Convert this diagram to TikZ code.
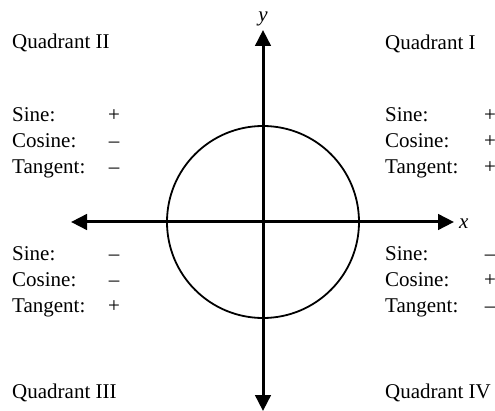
\documentclass[tikz,border=0pt]{standalone}
\usepackage{fontspec}
\setmainfont{Liberation Serif}
\usetikzlibrary{arrows.meta}
\begin{document}
\begin{tikzpicture}[x=1pt,y=-1pt,
  lbl/.style={inner sep=0pt,anchor=base west,font=\fontsize{21}{25}\selectfont},
  sgn/.style={inner sep=0pt,anchor=base,font=\fontsize{21}{25}\selectfont},
  axis/.style={line width=3pt,-{Triangle[length=16pt,width=15.5pt]}},
  unitcircle/.style={line width=1.8pt}]
\useasboundingbox (0,0) rectangle (495,411);
\coordinate (O) at (263,222);
\coordinate (xl) at (71,222);
\coordinate (xr) at (454,222);
\coordinate (yt) at (263,30);
\coordinate (yb) at (263,411);
\draw[unitcircle] (O) circle[radius=96pt];
\draw[axis] (O) -- (xr);
\draw[axis] (O) -- (xl);
\draw[axis] (O) -- (yt);
\draw[axis] (O) -- (yb);
\node[lbl,anchor=base west] (xlab) at (459,229) {\itshape x};
\node[lbl,anchor=base] (ylab) at (263,22) {\itshape y};
% Quadrant II
\node[lbl] (q2) at (12,49) {Quadrant II};
\node[lbl] (s2) at (12,122) {Sine:};
\node[lbl] (c2) at (12,148) {Cosine:};
\node[lbl] (t2) at (12,174) {Tangent:};
\node[sgn] (s2v) at (114,122) {+};
\node[sgn] (c2v) at (114,148) {–};
\node[sgn] (t2v) at (114,174) {–};
% Quadrant I
\node[lbl] (q1) at (385,50) {Quadrant I};
\node[lbl] (s1) at (385,122) {Sine:};
\node[lbl] (c1) at (385,148) {Cosine:};
\node[lbl] (t1) at (385,174) {Tangent:};
\node[sgn] (s1v) at (490,122) {+};
\node[sgn] (c1v) at (490,148) {+};
\node[sgn] (t1v) at (490,174) {+};
% Quadrant III
\node[lbl] (s3) at (12,261) {Sine:};
\node[lbl] (c3) at (12,287) {Cosine:};
\node[lbl] (t3) at (12,313) {Tangent:};
\node[sgn] (s3v) at (114,261) {–};
\node[sgn] (c3v) at (114,287) {–};
\node[sgn] (t3v) at (114,313) {+};
\node[lbl] (q3) at (12,398) {Quadrant III};
% Quadrant IV
\node[lbl] (s4) at (385,261) {Sine:};
\node[lbl] (c4) at (385,287) {Cosine:};
\node[lbl] (t4) at (385,313) {Tangent:};
\node[sgn] (s4v) at (490,261) {–};
\node[sgn] (c4v) at (490,287) {+};
\node[sgn] (t4v) at (490,313) {–};
\node[lbl] (q4) at (385,398) {Quadrant IV};
\end{tikzpicture}
\end{document}
